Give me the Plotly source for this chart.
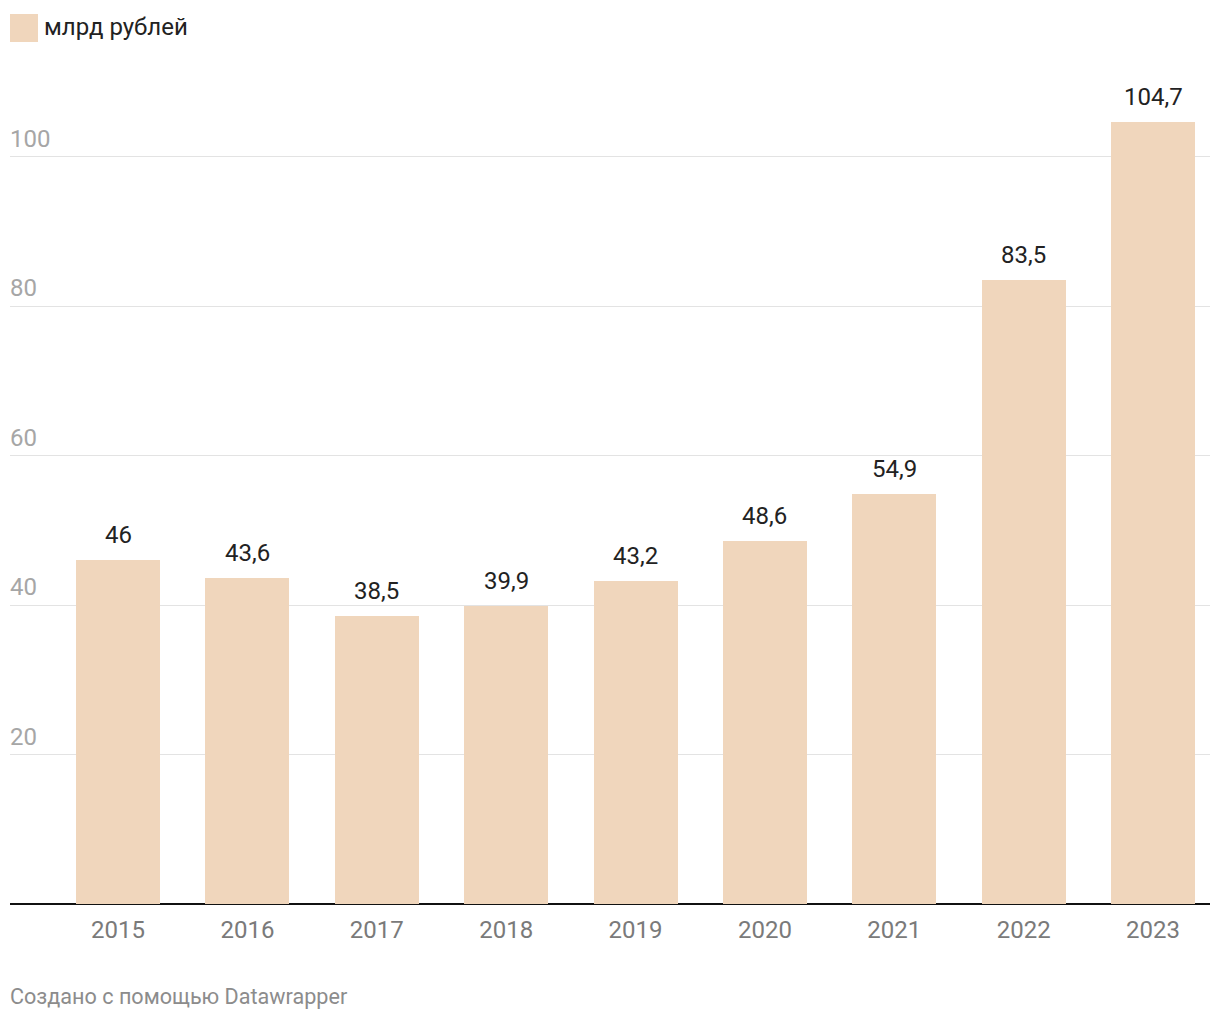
import plotly.graph_objects as go

years = ["2015", "2016", "2017", "2018", "2019", "2020", "2021", "2022", "2023"]
values = [46, 43.6, 38.5, 39.9, 43.2, 48.6, 54.9, 83.5, 104.7]
value_labels = ["46", "43,6", "38,5", "39,9", "43,2", "48,6", "54,9", "83,5", "104,7"]
y_ticks = [20, 40, 60, 80, 100]
legend_label = "млрд рублей"
footer = "Создано с помощью Datawrapper"

BAR = "#f0d6bc"
FONT = "Roboto"

PH = 822  # plot height px
xs = list(range(len(years)))

fig = go.Figure()
fig.add_trace(go.Bar(
    x=xs, y=values, width=0.65, marker=dict(color=BAR, line=dict(width=0)),
    showlegend=False, hoverinfo="skip",
))

# value labels
for x, v, t in zip(xs, values, value_labels):
    fig.add_annotation(x=x, y=v, text=t, showarrow=False, yanchor="bottom",
                       yshift=9, font=dict(family=FONT, size=24, color="#222222"))

# y tick labels above gridlines
for t in y_ticks:
    fig.add_annotation(x=0, xref="paper", y=t, text=str(t), showarrow=False,
                       xanchor="left", yanchor="bottom", yshift=2, xshift=-2,
                       font=dict(family=FONT, size=24, color="#a6a6a6"))

# legend
fig.add_shape(type="rect", xref="paper", yref="paper", x0=0, x1=28/1200,
              y0=1 + (82 - 42) / PH, y1=1 + (82 - 14) / PH,
              fillcolor=BAR, line=dict(width=0))
fig.add_annotation(xref="paper", yref="paper", x=32/1200, y=1 + (82 - 27) / PH,
                   text=legend_label, showarrow=False, xanchor="left", yanchor="middle",
                   font=dict(family=FONT, size=24, color="#222222"))

# footer
fig.add_annotation(xref="paper", yref="paper", x=0, y=-(997 - 904) / PH,
                   text=footer, showarrow=False, xanchor="left", yanchor="middle",
                   xshift=-2, font=dict(family=FONT, size=21.6, color="#8c8c8c"))

fig.update_layout(
    width=1212, height=1012,
    margin=dict(l=2, r=10, t=74, b=116),
    paper_bgcolor="white", plot_bgcolor="white",
    font=dict(family=FONT),
    bargap=0,
)
fig.update_xaxes(
    range=[-0.835, 8.44], tickvals=xs, ticktext=years,
    showgrid=False, zeroline=False, showline=False,
    ticks="", ticklabelstandoff=9,
    tickfont=dict(family=FONT, size=24, color="#7a7a7a"),
    fixedrange=True,
)
fig.update_yaxes(
    range=[0, 110], tickvals=y_ticks, showticklabels=False,
    showgrid=True, gridcolor="#e3e3e3", gridwidth=1,
    zeroline=True, zerolinecolor="#111111", zerolinewidth=2,
    showline=False, fixedrange=True,
)

fig.write_html("out.html", config={"displayModeBar": False})
